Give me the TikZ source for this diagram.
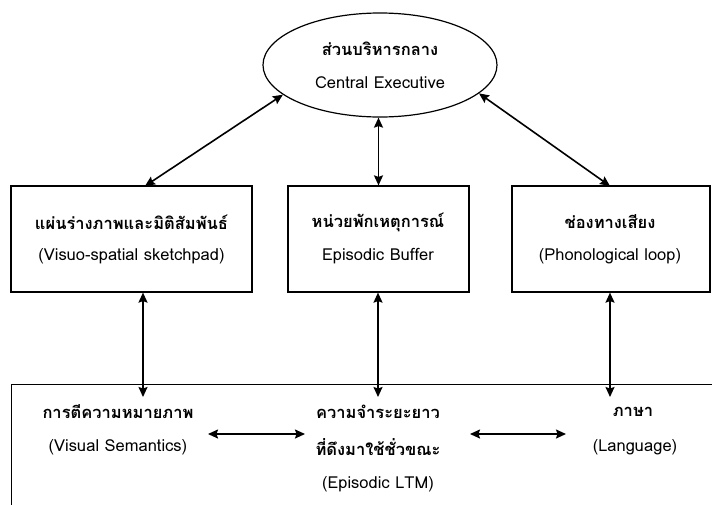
\documentclass[tikz,border=0pt]{standalone}
\usepackage{fontspec}
\setmainfont[Script=Thai]{Loma}
\usetikzlibrary{shapes.geometric,arrows.meta}
\tikzset{
  box/.style={draw, line width=1.2pt, rectangle, inner sep=0pt},
  lbl/.style={inner sep=0pt, font=\fontsize{16.5}{18}\selectfont},
  tlbl/.style={inner sep=0pt, font=\fontsize{16.5}{18}\selectfont\bfseries},
  arr/.style={line width=1.6pt, {Stealth[length=10pt,width=9pt,inset=1.5pt]}-{Stealth[length=10pt,width=9pt,inset=1.5pt]}},
}
\begin{document}
\begin{tikzpicture}[x=1pt,y=-1pt]
\useasboundingbox (0,0) rectangle (712,504);
\clip (0,0) rectangle (712,504);
\fill[white] (0,0) rectangle (712,504);
% central executive
\node[draw, line width=1.2pt, ellipse, minimum width=234pt, minimum height=104pt, inner sep=0pt] (ce) at (380,65) {};
\node[tlbl] (ce1) at (380,49) {ส่วนบริหารกลาง};
\node[lbl] (ce2) at (380,83) {Central Executive};
% three boxes
\node[box, minimum width=241pt, minimum height=106pt] (vs) at (131.5,239) {};
\node[box, minimum width=181pt, minimum height=106pt] (eb) at (378.5,239) {};
\node[box, minimum width=198pt, minimum height=106pt] (pl) at (611,239) {};
\node[tlbl] (vs1) at (131.5,222) {แผ่นร่างภาพและมิติสัมพันธ์};
\node[lbl] (vs2) at (131.5,256) {(Visuo-spatial sketchpad)};
\node[tlbl] (eb1) at (378,222) {หน่วยพักเหตุการณ์};
\node[lbl] (eb2) at (378,256) {Episodic Buffer};
\node[tlbl] (pl1) at (610,222) {ช่องทางเสียง};
\node[lbl] (pl2) at (610,256) {(Phonological loop)};
% bottom box (cut off at right and bottom)
\node[box, anchor=north west, minimum width=720pt, minimum height=140pt] (ltm) at (11,384) {};
\node[tlbl] (vsem1) at (118,412) {การตีความหมายภาพ};
\node[lbl] (vsem2) at (118,447) {(Visual Semantics)};
\node[tlbl] (el1) at (378,412) {ความจำระยะยาว};
\node[tlbl] (el2) at (378,447) {ที่ดึงมาใช้ชั่วขณะ};
\node[lbl] (el3) at (378,484) {(Episodic LTM)};
\node[tlbl] (lg1) at (633,412) {ภาษา};
\node[lbl] (lg2) at (635,447) {(Language)};
% connector end points
\coordinate (a1) at (145,186);
\coordinate (a2) at (610,186);
\coordinate (b1) at (143,397);
\coordinate (b2) at (378,397);
\coordinate (b3) at (610,397);
\coordinate (h1) at (208,434);
\coordinate (h2) at (305,434);
\coordinate (h3) at (470,434);
\coordinate (h4) at (566,434);
% arrows
\draw[arr] (a1) -- (ce.197);
\draw[arr] (ce.south -| eb.north) -- (eb.north);
\draw[arr] (ce.344) -- (a2);
\draw[arr] (vs.south -| b1) -- (b1);
\draw[arr] (eb.south -| b2) -- (b2);
\draw[arr] (pl.south -| b3) -- (b3);
\draw[arr] (h1) -- (h2);
\draw[arr] (h3) -- (h4);
\end{tikzpicture}
\end{document}
